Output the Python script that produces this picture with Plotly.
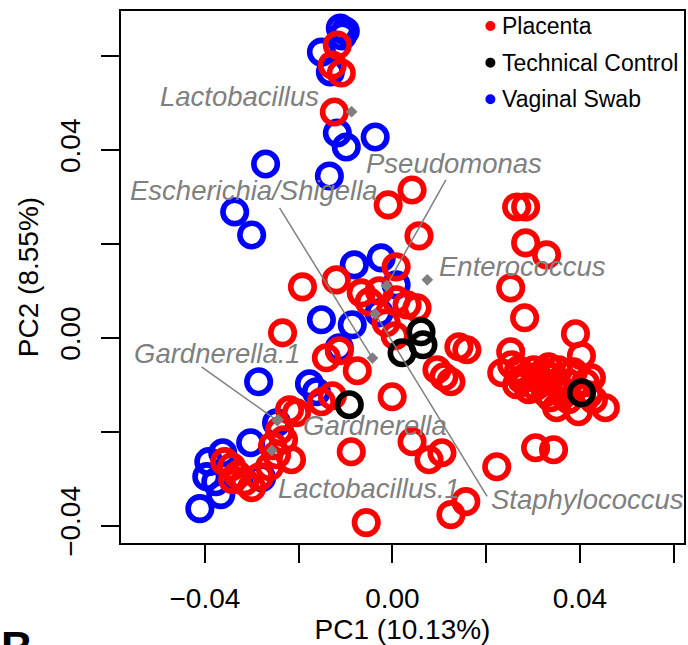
import plotly.graph_objects as go

# ---- sample scores on PC1 / PC2 ----
placenta_pc1 = [-0.01175, -0.01282, -0.01090, -0.01239, -0.00091, 0.00419, 0.00567, 0.00079,
                -0.01197, -0.01919, -0.00665, -0.00283, 0.00079, 0.00312, 0.00525, -0.00134,
                -0.02344, -0.00495, 0.00057, -0.01133, -0.01409, -0.00750, -0.01515, -0.01282,
                -0.00006, -0.02047, -0.02196, -0.02408, -0.02323, -0.02472, -0.02557, -0.02153,
                -0.02621, -0.02833, -0.03577, -0.03428, -0.03301, -0.03152, -0.03003, -0.03407,
                -0.00878, -0.00559, 0.00419, 0.00780, 0.01056, 0.00950, 0.01099, 0.01248,
                0.01418, 0.01588, 0.01566, 0.01248, 0.02225, 0.03054, 0.03437, 0.02650,
                0.02842, 0.02842, 0.03288, 0.02523, 0.02820, 0.03904, 0.04032, 0.02523,
                0.02332, 0.02693, 0.02842, 0.03054, 0.03331, 0.03479, 0.03267, 0.02905,
                0.03543, 0.03756, 0.04117, 0.04244, 0.03501, 0.03968, 0.04542, 0.04287,
                0.04032, 0.03118, 0.03649, 0.02757, 0.03224, 0.03373, 0.03862, 0.04181,
                0.03756, 0.02544, 0.03012, 0.03182, 0.03394, 0.03607, 0.02650]
placenta_pc2 = [0.06234, 0.05809, 0.05638, 0.04809, 0.02830, 0.03149, 0.02170, 0.01511,
                0.01234, 0.01085, 0.00957, 0.01000, 0.00809, 0.00702, 0.00638, 0.00319,
                0.00106, 0.00766, 0.00043, -0.00277, -0.00426, -0.00702, -0.01362, -0.01234,
                -0.01255, -0.01596, -0.01532, -0.01979, -0.02170, -0.02489, -0.02298, -0.02596,
                -0.02745, -0.02957, -0.02638, -0.02745, -0.02915, -0.03064, -0.03191, -0.03021,
                -0.02426, -0.03936, -0.02213, -0.02596, -0.02447, -0.00681, -0.00830, -0.00936,
                -0.00191, -0.00255, -0.03489, -0.03766, -0.02745, -0.02340, -0.02383, 0.02787,
                0.02787, 0.02021, 0.01766, 0.01064, 0.00426, 0.00085, -0.00383, -0.00298,
                -0.00745, -0.00681, -0.00830, -0.01043, -0.00617, -0.00957, -0.01170, -0.01106,
                -0.00681, -0.00957, -0.00957, -0.00851, -0.01489, -0.01574, -0.01489, -0.01319,
                -0.01170, -0.00851, -0.01213, -0.00894, -0.00723, -0.01277, -0.00723, -0.01213,
                -0.01319, -0.00574, -0.00681, -0.00957, -0.00830, -0.01106, -0.01000]

control_pc1 = [0.00610, 0.00652, 0.00206, -0.00920, 0.04032]
control_pc2 = [0.00128, -0.00149, -0.00319, -0.01426, -0.01170]

swab_pc1 = [-0.01112, -0.01005, -0.01069, -0.01515, -0.01324, -0.01175, -0.00984, -0.00368,
            -0.02706, -0.01345, -0.03365, -0.03003, -0.00814, -0.00240, 0.00079, -0.00283,
            -0.01515, -0.00857, -0.01133, -0.02854, -0.01770, -0.01622, -0.02472, -0.03024,
            -0.03620, -0.03917, -0.03960, -0.03768, -0.02791, -0.03662, -0.04108]
swab_pc2 = [0.06596, 0.06532, 0.06426, 0.06085, 0.05660, 0.04362, 0.04064, 0.04277,
            0.03702, 0.03447, 0.02681, 0.02191, 0.01553, 0.01702, 0.01128, 0.00532,
            0.00383, 0.00277, -0.00213, -0.00936, -0.00979, -0.01149, -0.01809, -0.02234,
            -0.02447, -0.02638, -0.02957, -0.03064, -0.02979, -0.03340, -0.03638]

# ---- taxa loadings and their labels ----
taxa = ["Lactobacillus", "Pseudomonas", "Enterococcus", "Staphylococcus",
        "Escherichia/Shigella", "Gardnerella.1", "Gardnerella", "Lactobacillus.1"]
taxa_pc1 = [-0.00871, -0.00128, 0.00744, -0.00368, -0.00425, -0.02457, -0.02440, -0.02572]
taxa_pc2 = [0.04815, 0.01106, 0.01234, 0.00511, -0.00432, -0.01766, -0.01745, -0.02398]
label_pc1 = [-0.04995, -0.00601, 0.00956, 0.02055, -0.05632, -0.05560, -0.01947, -0.02478]
label_pc2 = [0.05140, 0.03709, 0.01523, -0.03440, 0.03140, -0.00334, -0.01860, -0.03206]
leader_pc1 = [None, 0.01141, None, 0.02019, -0.02408, -0.04072, None, None]
leader_pc2 = [None, 0.03362, None, -0.03377, 0.02766, -0.00617, None, None]

groups = ["Placenta", "Technical Control", "Vaginal Swab"]
group_colors = ["#FF0000", "#000000", "#0000FF"]

FONT = "Liberation Sans, Arial, Helvetica, sans-serif"
GREY = "#7F7F7F"

fig = go.Figure()

# sample rings: swabs first, placenta over them, controls on top
for name, xs, ys in [("Vaginal Swab", swab_pc1, swab_pc2),
                     ("Placenta", placenta_pc1, placenta_pc2),
                     ("Technical Control", control_pc1, control_pc2)]:
    col = group_colors[groups.index(name)]
    fig.add_trace(go.Scatter(
        x=xs, y=ys, mode="markers", name=name, showlegend=False,
        marker=dict(symbol="circle-open", size=23.5, color=col,
                    line=dict(width=5.6, color=col)),
    ))

# leader lines from loadings to labels
lx, ly = [], []
for i in range(len(taxa)):
    if leader_pc1[i] is not None:
        lx += [taxa_pc1[i], leader_pc1[i], None]
        ly += [taxa_pc2[i], leader_pc2[i], None]
fig.add_trace(go.Scatter(x=lx, y=ly, mode="lines", showlegend=False,
                         line=dict(color=GREY, width=1.5), hoverinfo="skip"))

# loading points
fig.add_trace(go.Scatter(x=taxa_pc1, y=taxa_pc2, mode="markers", showlegend=False,
                         text=taxa, marker=dict(symbol="diamond", size=9, color=GREY)))

annotations = []
for name, x, y in zip(taxa, label_pc1, label_pc2):
    annotations.append(dict(
        x=x, y=y, xref="x", yref="y", text=f"<i>{name}</i>", showarrow=False,
        xanchor="left", yanchor="middle",
        font=dict(family=FONT, size=27.5, color=GREY),
    ))

# key in the top-right corner
legend_rows = [0.9718, 0.9029, 0.8341]
shapes = []
for name, col, yy in zip(groups, group_colors, legend_rows):
    annotations.append(dict(
        x=0.6738, y=yy, xref="paper", yref="paper", text=name, showarrow=False,
        xanchor="left", yanchor="middle", font=dict(family=FONT, size=23, color="black"),
    ))
    shapes.append(dict(
        type="circle", xref="paper", yref="paper", xsizemode="pixel", ysizemode="pixel",
        xanchor=0.6561, yanchor=yy, x0=-5, x1=5, y0=-5, y1=5,
        fillcolor=col, line=dict(width=0),
    ))

# panel letter of the next figure, cut by the page edge
annotations.append(dict(
    x=-0.2159, y=-0.1473, xref="paper", yref="paper", text="<b>B</b>", showarrow=False,
    xanchor="left", yanchor="top", font=dict(family=FONT, size=44, color="black"),
))

tick_vals = [-0.04, -0.02, 0.0, 0.02, 0.04, 0.06]
tick_text = ["\u22120.04", "", "0.00", "", "0.04", ""]
axis_common = dict(
    tickvals=tick_vals, ticktext=tick_text, ticks="outside", ticklen=18, tickwidth=1.5,
    tickcolor="black", showline=True, linecolor="black", linewidth=1.5, mirror=True,
    showgrid=False, zeroline=False, tickfont=dict(family=FONT, size=28, color="black"),
)

fig.update_layout(
    width=688, height=645,
    margin=dict(l=121, r=2, t=11, b=102),
    paper_bgcolor="white", plot_bgcolor="white",
    font=dict(family=FONT, color="black"),
    xaxis=dict(range=[-0.0579, 0.0622], ticklabelstandoff=12,
               title=dict(text="PC1 (10.13%)", font=dict(family=FONT, size=28), standoff=0),
               **axis_common),
    yaxis=dict(range=[-0.0437, 0.0696], tickangle=-90, ticklabelstandoff=10,
               title=dict(text="PC2 (8.55%)", font=dict(family=FONT, size=28), standoff=8),
               **axis_common),
    annotations=annotations,
    shapes=shapes,
    showlegend=False,
)

fig.write_html("out.html")
